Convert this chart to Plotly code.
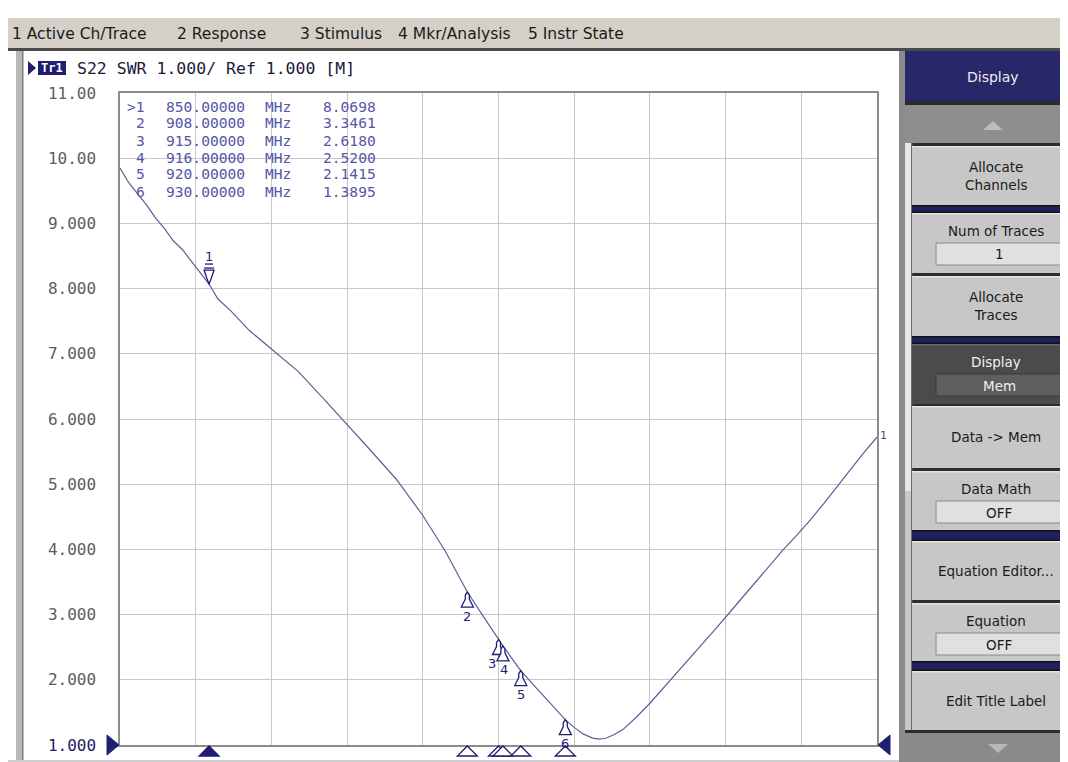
import plotly.graph_objects as go

# ---------------- data ----------------
freq_mhz = [830, 832, 834, 836, 838, 840, 842, 844, 846, 848, 850, 852, 855, 859, 864,
            870, 876, 881, 886, 892, 898, 903, 908, 912, 915, 916, 918, 920, 923, 926,
            930, 932, 934, 936, 937.5, 939, 941, 943, 946, 949, 952, 955, 958, 961, 964,
            967, 970, 973, 976, 979, 982, 985, 988, 991, 994, 997, 1000]
swr = [9.85, 9.62, 9.45, 9.28, 9.08, 8.92, 8.73, 8.60, 8.42, 8.25, 8.07, 7.84, 7.65, 7.36, 7.08,
       6.73, 6.29, 5.92, 5.54, 5.08, 4.52, 3.98, 3.346, 2.93, 2.618, 2.52, 2.33, 2.1415, 1.91, 1.68,
       1.3895, 1.27, 1.17, 1.11, 1.09, 1.10, 1.16, 1.24, 1.43, 1.64, 1.87, 2.10, 2.33, 2.56, 2.80,
       3.04, 3.28, 3.52, 3.76, 4.00, 4.22, 4.45, 4.70, 4.96, 5.22, 5.48, 5.72]

marker_ids = ["1", "2", "3", "4", "5", "6"]
marker_prefix = [">", "", "", "", "", ""]
marker_freq_mhz = [850, 908, 915, 916, 920, 930]
marker_swr = [8.0698, 3.3461, 2.6180, 2.5200, 2.1415, 1.3895]

y_tick_vals = [1, 2, 3, 4, 5, 6, 7, 8, 9, 10, 11]
y_tick_text = ["1.000", "2.000", "3.000", "4.000", "5.000", "6.000", "7.000",
               "8.000", "9.000", "10.00", "11.00"]
x_start, x_stop, x_div = 830, 1000, 17

menu_items = ["1 Active Ch/Trace", "2 Response", "3 Stimulus", "4 Mkr/Analysis", "5 Instr State"]
menu_x = [3, 168, 291, 389, 519]

title_tag = "Tr1"
title_text = "S22 SWR 1.000/ Ref 1.000 [M]"

softkey_header = "Display"
softkey_labels = ["Allocate<br>Channels", "Num of Traces", "Allocate<br>Traces", "Display",
                  "Data -> Mem", "Data Math", "Equation Editor...", "Equation", "Edit Title Label"]
softkey_values = [None, "1", None, "Mem", None, "OFF", None, "OFF", None]
softkey_top = [138, 205, 268, 336, 398, 463, 533, 595, 663]
softkey_bottom = [197, 265, 328, 396, 460, 522, 592, 653, 722]
softkey_dark = [False, False, False, True, False, False, False, False, False]
softkey_more = [True, True, True, True, False, True, False, False, False]
separators = [(197, 205), (328, 336), (522, 533), (653, 663)]

# ---------------- geometry helpers (layout only) ----------------
W, H = 1068, 762
L, R, T, B = 112, 869, 85, 737


def px(x):
    return (x - L) / (R - L)


def py(y):
    return (B - y) / (B - T)


shapes = []
ann = []


def rect(x0, y0, x1, y1, fill, line=None, lw=0):
    shapes.append(dict(type="rect", xref="paper", yref="paper",
                       x0=px(x0), x1=px(x1), y0=py(y1), y1=py(y0),
                       fillcolor=fill, line=dict(color=line or fill, width=lw)))


def poly(points, fill, line=None, lw=0):
    d = "M" + " L".join(f"{px(a):.5f},{py(b):.5f}" for a, b in points) + " Z"
    shapes.append(dict(type="path", xref="paper", yref="paper", path=d,
                       fillcolor=fill, line=dict(color=line or fill, width=lw)))


def text(x, y, s, size=13, color="#1a1a1a", family="DejaVu Sans", xanchor="center"):
    ann.append(dict(xref="paper", yref="paper", x=px(x), y=py(y), text=s, showarrow=False,
                    xanchor=xanchor, yanchor="middle", borderpad=0,
                    font=dict(family=family, size=size, color=color)))


NAVY = "#1e1e72"

# ---------------- window chrome ----------------
rect(0, 10, 1068, 40, "#d4d0c8")
rect(0, 40, 1068, 43, "#4a4a4a")
for s, x in zip(menu_items, menu_x):
    text(x, 26, s, size=15.5, color="#1a1a1a", xanchor="left")

rect(8, 43, 15, 752, "#b8b8b8")
rect(14, 43, 15.5, 752, "#7c7c7c")
rect(0, 752, 893, 762, "#cfcfcf")
rect(800, 754, 834, 762, "#35358a")
rect(839, 754, 868, 762, "#5a5a5a")
rect(891, 43, 897, 762, "#8a8a8a")

# trace title
poly([(20, 53), (28, 60), (20, 67)], NAVY)
rect(30, 53, 58, 67, NAVY)
text(44, 60, "<b>" + title_tag + "</b>", size=12, color="#ffffff", family="DejaVu Sans Mono")
text(68, 60, title_text, size=16.5, color="#1a1a3a", family="DejaVu Sans Mono", xanchor="left")

# ---------------- softkey panel ----------------
rect(897, 43, 1068, 762, "#2c2c2c")
rect(897, 43, 1068, 93, "#27276a")
text(985, 69, softkey_header, size=14, color="#eeeeee")
rect(897, 97, 1068, 135, "#8e8e8e")
poly([(975, 122), (985, 113), (995, 122)], "#bdbdbd")
rect(897, 135, 904, 483, "#e6e6e6")
rect(897, 483, 904, 722, "#c9c9c9")
rect(903, 135, 904.5, 722, "#6a6a6a")

for (a, b) in separators:
    rect(904, a, 1068, b, "#20205c")
    rect(904, a, 1068, a + 1.5, "#111111")
    rect(904, b - 1.5, 1068, b, "#111111")

for lab, val, t0, t1, dark, more in zip(softkey_labels, softkey_values, softkey_top,
                                         softkey_bottom, softkey_dark, softkey_more):
    face = "#4b4b4b" if dark else "#c7c7c7"
    tcol = "#f0f0f0" if dark else "#1a1a1a"
    rect(904, t0, 1068, t1, face)
    rect(904, t0, 1068, t0 + 1.5, "#6a6a6a" if dark else "#e4e4e4")
    if val is None:
        text(988, (t0 + t1) / 2, lab, size=13.5, color=tcol)
    else:
        text(988, t0 + 18, lab, size=13.5, color=tcol)
        box_face = "#5e5e5e" if dark else "#e0e0e0"
        rect(928, t0 + 30, 1055, t0 + 52, box_face, line="#3a3a3a" if dark else "#8a8a8a", lw=1)
        text(991, t0 + 41.5, val, size=13.5, color=tcol)
    if more:
        poly([(1061, (t0 + t1) / 2 - 7), (1068, (t0 + t1) / 2), (1061, (t0 + t1) / 2 + 7)],
             "#d8d8d8", line="#9a9a9a", lw=1)

rect(897, 725, 1068, 762, "#8a8a8a")
poly([(980, 736), (990, 745), (1000, 736)], "#b8b8b8")

# ---------------- reference arrows & stimulus markers ----------------
shapes.append(dict(type="path", xref="paper", yref="paper", xsizemode="pixel", ysizemode="pixel",
                   xanchor=0, yanchor=0, path="M-13,10 L-1,0 L-13,-10 Z",
                   fillcolor=NAVY, line=dict(color=NAVY, width=1)))
shapes.append(dict(type="path", xref="paper", yref="paper", xsizemode="pixel", ysizemode="pixel",
                   xanchor=1, yanchor=0, path="M1,0 L13,10 L13,-10 Z",
                   fillcolor=NAVY, line=dict(color=NAVY, width=1)))

for i, f in enumerate(marker_freq_mhz):
    shapes.append(dict(type="path", xref="x", yref="paper", xsizemode="pixel", ysizemode="pixel",
                       xanchor=f, yanchor=0, path="M0,-1 L-10,-11 L10,-11 Z",
                       fillcolor=NAVY if i == 0 else "#ffffff",
                       line=dict(color=NAVY, width=1.3)))

# ---------------- markers on the trace ----------------
label_dx = [0, 0, -7, 1, 0, 0]
for i, (mid, f, v) in enumerate(zip(marker_ids, marker_freq_mhz, marker_swr)):
    if i == 0:
        path = "M0,0 L-2,5 L-5,14 L5,14 L2,5 Z"
        shapes.append(dict(type="path", xref="x", yref="y", xsizemode="pixel", ysizemode="pixel",
                           xanchor=f, yanchor=v, path="M-5,16 L5,16",
                           line=dict(color=NAVY, width=1.3)))
        shapes.append(dict(type="path", xref="x", yref="y", xsizemode="pixel", ysizemode="pixel",
                           xanchor=f, yanchor=v, path="M-4,20 L4,20",
                           line=dict(color=NAVY, width=1.3)))
        ann.append(dict(x=f, y=v, xref="x", yref="y", text=mid, showarrow=False, yshift=28,
                        font=dict(family="DejaVu Sans", size=13, color=NAVY)))
    else:
        path = "M0,0 L-2,-3 L-2,-7 L-6,-15 L6,-15 L2,-7 L2,-3 Z"
        ann.append(dict(x=f, y=v, xref="x", yref="y", text=mid, showarrow=False, yshift=-24,
                        xshift=label_dx[i],
                        font=dict(family="DejaVu Sans", size=13, color=NAVY)))
    shapes.append(dict(type="path", xref="x", yref="y", xsizemode="pixel", ysizemode="pixel",
                       xanchor=f, yanchor=v, path=path, fillcolor="#ffffff",
                       line=dict(color=NAVY, width=1.3)))

# ---------------- marker table ----------------
TBL = "#5656a6"
TSZ = 14.6
for i, (pre, mid, f, v) in enumerate(zip(marker_prefix, marker_ids, marker_freq_mhz, marker_swr)):
    yy = 98 + 17 * i
    text(138, yy, pre + mid, size=TSZ, color=TBL, family="DejaVu Sans Mono", xanchor="right")
    text(157, yy, f"{f:.5f}", size=TSZ, color=TBL, family="DejaVu Sans Mono", xanchor="left")
    text(256, yy, "MHz", size=TSZ, color=TBL, family="DejaVu Sans Mono", xanchor="left")
    text(369, yy, f"{v:.4f}", size=TSZ, color=TBL, family="DejaVu Sans Mono", xanchor="right")

# trace label at right edge
ann.append(dict(xref="paper", yref="y", x=1, y=swr[-1], text="1", showarrow=False,
                xanchor="left", xshift=1, yshift=2, font=dict(family="DejaVu Sans", size=11, color="#4a4a8a")))

# ---------------- figure ----------------
fig = go.Figure()
fig.add_trace(go.Scatter(x=freq_mhz, y=swr, mode="lines",
                         line=dict(color="#5e5e98", width=1.2), hoverinfo="x+y"))

tick_text = [f"<span style='color:#20205e'>{t}</span>" if v == 1 else t
             for v, t in zip(y_tick_vals, y_tick_text)]

fig.update_layout(
    width=W, height=H,
    margin=dict(l=L, r=W - R, t=T, b=H - B, pad=0),
    paper_bgcolor="#ffffff", plot_bgcolor="#ffffff",
    showlegend=False,
    xaxis=dict(range=[x_start, x_stop], tick0=x_start, dtick=x_div, showgrid=True,
               gridcolor="#c8c8c8", gridwidth=1, showline=True, mirror=True,
               linecolor="#8c8c8c", linewidth=1.5, zeroline=False, showticklabels=False,
               ticks="", fixedrange=True),
    yaxis=dict(range=[1, 11], tickvals=y_tick_vals, ticktext=tick_text, showgrid=True,
               gridcolor="#c8c8c8", gridwidth=1, showline=True, mirror=True,
               linecolor="#8c8c8c", linewidth=1.5, zeroline=False, ticks="",
               ticklabelstandoff=19, tickfont=dict(family="DejaVu Sans Mono", size=16, color="#5c5c5c"),
               fixedrange=True),
    shapes=shapes,
    annotations=ann,
)

fig.write_html("out.html")
